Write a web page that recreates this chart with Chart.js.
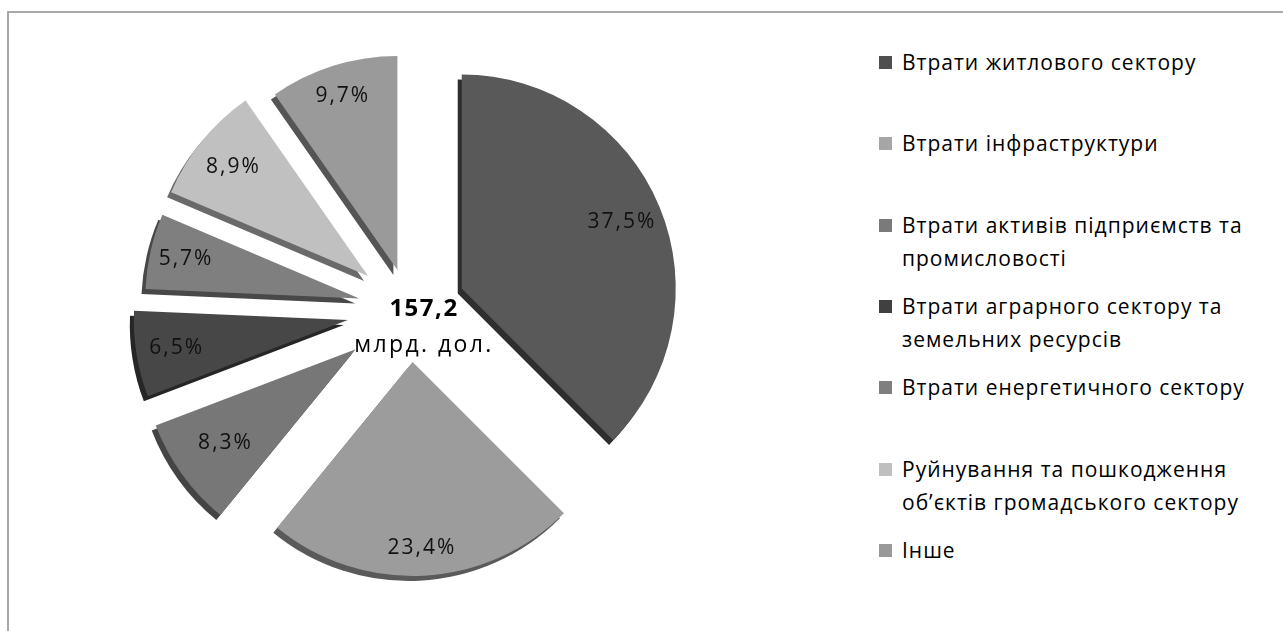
<!DOCTYPE html>
<html>
<head>
<meta charset="utf-8">
<script src="https://cdn.jsdelivr.net/npm/chart.js@4.4.0/dist/chart.umd.min.js"></script>
<style>
  body { margin: 0; background: #fff; width: 1283px; height: 631px; overflow: hidden; position: relative; font-family: "Open Sans", sans-serif; }
  #frame { position: absolute; left: 7px; top: 11px; right: -10px; bottom: -10px; border-top: 2px solid #a8a8a8; border-left: 2px solid #a8a8a8; }
  #wrap { position: absolute; left: 0; top: 0; width: 820px; height: 620px; }
  #legend { position: absolute; left: 879px; top: 0; }
  .item { position: absolute; left: 0; width: 400px; font-size: 21px; letter-spacing: 1px; line-height: 33px; color: #000; }
  .item .box { position: absolute; left: 0; top: 10px; width: 13px; height: 13px; }
  .item .txt { position: absolute; left: 23px; top: 0; white-space: nowrap; }
</style>
</head>
<body>
<div id="frame"></div>
<div id="wrap"><canvas id="pieChart"></canvas></div>
<div id="legend"></div>
<script>
// data
var labels = [
    ['Втрати житлового сектору'],
    ['Втрати інфраструктури'],
    ['Втрати активів підприємств та', 'промисловості'],
    ['Втрати аграрного сектору та', 'земельних ресурсів'],
    ['Втрати енергетичного сектору'],
    ['Руйнування та пошкодження', 'об\u2019єктів громадського сектору'],
    ['Інше']
];
var shares = [37.5, 23.4, 8.3, 6.5, 5.7, 8.9, 9.7];
var totalValue = '157,2';
var totalUnit = 'млрд. дол.';

// styles
var faceColors = ['#595959', '#9c9c9c', '#777777', '#474747', '#7f7f7f', '#c0c0c0', '#9a9a9a'];
var edgeColors = ['#2e2e2e', '#5a5a5a', '#444444', '#262626', '#484848', '#6a6a6a', '#555555'];
var legendColors = ['#4f4f4f', '#a6a6a6', '#7a7a7a', '#404040', '#7f7f7f', '#bfbfbf', '#999999'];
var explode = [56, 52, 67, 63, 52, 54, 42];
var labelRadius = [0.81, 0.87, 0.75, 0.81, 0.83, 0.81, 0.85];

// html legend
var legend = document.getElementById('legend');
labels.forEach(function (lines, i) {
    var div = document.createElement('div');
    div.className = 'item';
    div.style.top = (46 + i * 81.3) + 'px';
    div.innerHTML = '<span class="box" style="background:' + legendColors[i] + '"></span><span class="txt">' + lines.join('<br>') + '</span>';
    legend.appendChild(div);
});

function midAngle(arc) {
    return (arc.startAngle + arc.endAngle) / 2;
}

var explodedPie = {
    id: 'explodedPie',
    beforeDatasetDraw: function (chart, args) {
        var ctx = chart.ctx;
        args.meta.data.forEach(function (arc, i) {
            var a = midAngle(arc);
            ctx.save();
            ctx.translate(Math.cos(a) * explode[i], Math.sin(a) * explode[i]);
            ctx.shadowColor = edgeColors[i];
            ctx.shadowOffsetX = -4;
            ctx.shadowOffsetY = 5;
            ctx.shadowBlur = 0;
            arc.draw(ctx);
            ctx.restore();
        });
        return false;
    },
    afterDatasetsDraw: function (chart) {
        var ctx = chart.ctx;
        var meta = chart.getDatasetMeta(0);
        ctx.save();
        ctx.fillStyle = '#111';
        ctx.textAlign = 'center';
        ctx.textBaseline = 'middle';
        ctx.font = '21px "Open Sans", sans-serif';
        ctx.letterSpacing = '2px';
        meta.data.forEach(function (arc, i) {
            var a = midAngle(arc);
            var d = explode[i] + arc.outerRadius * labelRadius[i];
            var x = arc.x + Math.cos(a) * d;
            var y = arc.y + Math.sin(a) * d;
            ctx.fillText(shares[i].toFixed(1).replace('.', ',') + '%', x, y);
        });
        var c = meta.data[0];
        ctx.fillStyle = '#000';
        ctx.font = 'bold 24px "Open Sans", sans-serif';
        ctx.letterSpacing = '1.5px';
        ctx.fillText(totalValue, c.x + 14, c.y - 1);
        ctx.font = '23px "Open Sans", sans-serif';
        ctx.letterSpacing = '2.4px';
        ctx.fillText(totalUnit, c.x + 14, c.y + 35);
        ctx.restore();
    }
};

var ctx = document.getElementById('pieChart').getContext('2d');
var chart = new Chart(ctx, {
    type: 'pie',
    data: {
        labels: labels.map(function (l) { return l.join(' '); }),
        datasets: [{
            data: shares,
            backgroundColor: faceColors,
            borderWidth: 0
        }]
    },
    options: {
        responsive: true,
        maintainAspectRatio: false,
        animation: false,
        radius: 214,
        layout: { padding: 0 },
        plugins: {
            legend: { display: false },
            tooltip: { enabled: false }
        }
    },
    plugins: [explodedPie]
});
</script>
</body>
</html>
